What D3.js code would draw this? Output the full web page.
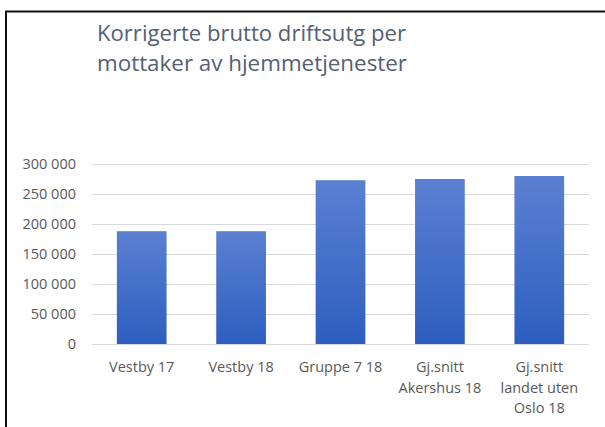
<!DOCTYPE html>
<html>
<head>
<meta charset="utf-8">
<script src="https://cdn.jsdelivr.net/npm/d3@7"></script>
<style>
  html, body { margin: 0; padding: 0; background: #fff; }
  svg { display: block; }
</style>
</head>
<body>
<svg id="chart" width="605" height="427"></svg>
<script>
const titleLines = ["Korrigerte brutto driftsutg per", "mottaker av hjemmetjenester"];
const categories = ["Vestby 17", "Vestby 18", "Gruppe 7 18", "Gj.snitt Akershus 18", "Gj.snitt landet uten Oslo 18"];
const categoryLabelLines = [["Vestby 17"], ["Vestby 18"], ["Gruppe 7 18"], ["Gj.snitt", "Akershus 18"], ["Gj.snitt", "landet uten", "Oslo 18"]];
const values = [188000, 188000, 273000, 275000, 280000];
const yTicks = [0, 50000, 100000, 150000, 200000, 250000, 300000];
const yTickLabels = ["0", "50 000", "100 000", "150 000", "200 000", "250 000", "300 000"];

const svg = d3.select("#chart");
const font = "'Open Sans', 'Noto Sans', sans-serif";

// frame
svg.append("path")
  .attr("d", "M6,427 V11.5 H605")
  .attr("fill", "none")
  .attr("stroke", "#111")
  .attr("stroke-width", 2);

const defs = svg.append("defs");
const grad = defs.append("linearGradient").attr("id", "barGrad")
  .attr("x1", 0).attr("y1", 0).attr("x2", 0).attr("y2", 1);
grad.append("stop").attr("offset", "0%").attr("stop-color", "#5b80d2");
grad.append("stop").attr("offset", "100%").attr("stop-color", "#2d5ebf");

const x = d3.scaleBand().domain(categories).range([92, 589]).paddingInner(0.5).paddingOuter(0.25);
const y = d3.scaleLinear().domain([0, 300000]).range([344, 164]);

// gridlines
svg.append("g").selectAll("line").data(yTicks).join("line")
  .attr("x1", 92).attr("x2", 589)
  .attr("y1", d => Math.round(y(d)) + 0.5).attr("y2", d => Math.round(y(d)) + 0.5)
  .attr("stroke", "#d9d9d9").attr("stroke-width", 1);

// y tick labels
svg.append("g").selectAll("text").data(yTicks).join("text")
  .attr("x", 76).attr("y", d => y(d))
  .attr("dy", "0.35em")
  .attr("text-anchor", "end")
  .attr("font-family", font).attr("font-size", 14.5)
  .attr("fill", "#595959")
  .text((d, i) => yTickLabels[i]);

// bars
svg.append("g").selectAll("rect").data(values).join("rect")
  .attr("x", (d, i) => x(categories[i]))
  .attr("width", x.bandwidth())
  .attr("y", d => y(d))
  .attr("height", d => y(0) - y(d))
  .attr("fill", "url(#barGrad)");

// category labels
const cl = svg.append("g").selectAll("text").data(categories).join("text")
  .attr("text-anchor", "middle")
  .attr("font-family", font).attr("font-size", 14.5)
  .attr("fill", "#595959");
cl.each(function(c, i) {
  const t = d3.select(this);
  categoryLabelLines[i].forEach((ln, j) => {
    t.append("tspan")
      .attr("x", x(c) + x.bandwidth() / 2)
      .attr("y", 372 + j * 20.5)
      .text(ln);
  });
});

// title
svg.append("g").selectAll("text").data(titleLines).join("text")
  .attr("x", 97)
  .attr("y", (d, i) => 41 + i * 30)
  .attr("font-family", font)
  .attr("font-size", 22)
  .attr("fill", "#546074")
  .attr("textLength", (d, i) => i === 0 ? 309 : 310)
  .attr("lengthAdjust", "spacingAndGlyphs")
  .text(d => d);
</script>
</body>
</html>
